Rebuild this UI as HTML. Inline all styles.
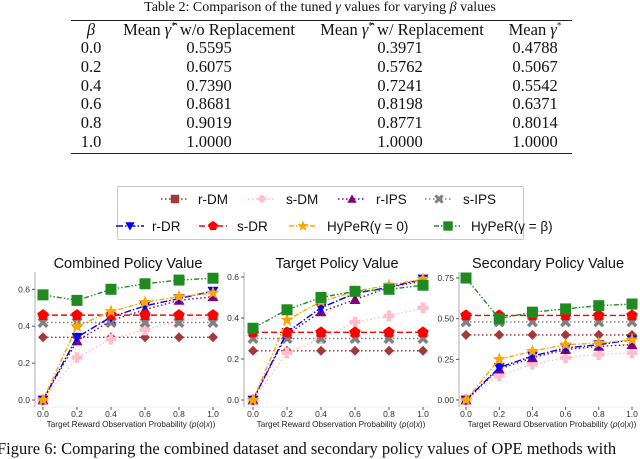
<!DOCTYPE html>
<html><head><meta charset="utf-8">
<style>
body{margin:0;background:#fff;width:640px;height:449px;overflow:hidden;position:relative;font-family:"Liberation Serif",serif;}
.t{position:absolute;white-space:nowrap;color:#111;}
</style></head>
<body>
<div class="t" style="left:0;width:640px;text-align:center;top:0;font-size:14px;">Table 2: Comparison of the tuned <i>γ</i> values for varying <i>β</i> values</div>
<div style="position:absolute;left:0;top:0;width:640px;height:160px;font-size:16.5px;">
<div style="position:absolute;left:71px;width:501px;top:20px;border-top:1.3px solid #222;"></div>
<div style="position:absolute;left:71px;width:501px;top:153px;border-top:1.3px solid #222;"></div>
<div id="tbl"></div>
</div>

<div style="position:absolute;left:117px;top:186px;width:405px;height:52px;border:1.5px solid #c8c8c8;border-radius:2px;"></div>
<svg id="main" width="640" height="449" style="position:absolute;left:0;top:0;" font-family="Liberation Sans, sans-serif"></svg>
<div class="t" style="left:-3px;top:439px;font-size:16.5px;">Figure 6: Comparing the combined dataset and secondary policy values of OPE methods with</div>

<script>
// table data
const betas=["0.0","0.2","0.4","0.6","0.8","1.0"];
const woRep=["0.5595","0.6075","0.7390","0.8681","0.9019","1.0000"];
const wRep=["0.3971","0.5762","0.7241","0.8198","0.8771","1.0000"];
const meanG=["0.4788","0.5067","0.5542","0.6371","0.8014","1.0000"];

// chart data
const xs=[0,0.2,0.4,0.6,0.8,1.0];
const xTicks=["0.0","0.2","0.4","0.6","0.8","1.0"];
const combRDM=[0.34,0.34,0.34,0.34,0.34,0.34];
const combSDM=[0.0,0.23,0.33,0.38,0.43,0.45];
const combRIPS=[0.0,0.32,0.43,0.49,0.54,0.56];
const combSIPS=[0.42,0.42,0.42,0.42,0.42,0.42];
const combRDR=[0.0,0.34,0.45,0.51,0.55,0.59];
const combSDR=[0.46,0.46,0.46,0.46,0.46,0.46];
const combH0=[0.0,0.40,0.48,0.53,0.56,0.58];
const combHB=[0.57,0.54,0.60,0.63,0.65,0.66];
const tgtRDM=[0.24,0.24,0.24,0.24,0.24,0.24];
const tgtSDM=[0.0,0.23,0.30,0.38,0.41,0.45];
const tgtRIPS=[0.0,0.32,0.43,0.49,0.55,0.58];
const tgtSIPS=[0.30,0.30,0.30,0.30,0.30,0.30];
const tgtRDR=[0.0,0.33,0.45,0.52,0.55,0.59];
const tgtSDR=[0.33,0.33,0.33,0.33,0.33,0.33];
const tgtH0=[0.0,0.39,0.48,0.53,0.56,0.59];
const tgtHB=[0.35,0.44,0.50,0.53,0.54,0.56];
const secRDM=[0.40,0.40,0.40,0.40,0.40,0.40];
const secSDM=[0.0,0.15,0.22,0.26,0.28,0.29];
const secRIPS=[0.0,0.19,0.26,0.31,0.33,0.34];
const secSIPS=[0.48,0.48,0.48,0.48,0.48,0.48];
const secRDR=[0.0,0.20,0.27,0.32,0.34,0.37];
const secSDR=[0.52,0.52,0.52,0.52,0.52,0.52];
const secH0=[0.0,0.25,0.30,0.34,0.35,0.37];
const secHB=[0.75,0.50,0.54,0.56,0.58,0.59];
const combY=[0,0.2,0.4,0.6], combYL=["0.0","0.2","0.4","0.6"];
const tgtY=[0,0.2,0.4,0.6], tgtYL=["0.0","0.2","0.4","0.6"];
const secY=[0,0.25,0.5,0.75], secYL=["0.00","0.25","0.50","0.75"];

// table
const tbl=document.getElementById('tbl');
function cell(txt,cx,cy,name,html){const d=document.createElement('div');d.className='t';d.style.left=(cx-110)+'px';d.style.width='220px';d.style.textAlign='center';d.style.top=(cy-10)+'px';if(html)d.innerHTML=txt;else d.textContent=txt;


tbl.appendChild(d);}
cell('<i>β</i>',91,30,'header-beta',1);
cell('Mean <i>γ̂</i><sup style="font-size:9px">*</sup> w/o Replacement',209,30,'header-wo-replacement',1);
cell('Mean <i>γ̂</i><sup style="font-size:9px">*</sup> w/ Replacement',402,30,'header-w-replacement',1);
cell('Mean <i>γ</i><sup style="font-size:9px">*</sup>',535,30,'header-mean-gamma',1);
for(let i=0;i<6;i++){const y=48+i*18.8;
cell(betas[i],91,y,'beta-value');cell(woRep[i],209,y,'wo-replacement-value');cell(wRep[i],400,y,'w-replacement-value');cell(meanG[i],535,y,'mean-gamma-value');}

const NS='http://www.w3.org/2000/svg';const svg=document.getElementById('main');
function el(tag,attrs,parent){const e=document.createElementNS(NS,tag);for(const k in attrs)e.setAttribute(k,attrs[k]);(parent||svg).appendChild(e);return e;}
function marker(type,x,y,s,col,g){let d;const r=s/2;
if(type==='sq')d=`M${x-r},${y-r}h${s}v${s}h${-s}z`;
else if(type==='dia')d=`M${x},${y-r}L${x+r},${y}L${x},${y+r}L${x-r},${y}z`;
else if(type==='tu')d=`M${x},${y-r}L${x+r},${y+r*0.8}L${x-r},${y+r*0.8}z`;
else if(type==='td')d=`M${x},${y+r}L${x+r},${y-r*0.8}L${x-r},${y-r*0.8}z`;
else if(type==='plus'){const w=r*0.4;d=`M${x-w},${y-r}h${2*w}v${r-w}h${r-w}v${2*w}h${-(r-w)}v${r-w}h${-2*w}v${-(r-w)}h${-(r-w)}v${-2*w}h${r-w}z`;}
else if(type==='x'){const w=r*0.45;d=`M${x-r},${y-r+w}L${x-r+w},${y-r}L${x},${y-w}L${x+r-w},${y-r}L${x+r},${y-r+w}L${x+w},${y}L${x+r},${y+r-w}L${x+r-w},${y+r}L${x},${y+w}L${x-r+w},${y+r}L${x-r},${y+r-w}L${x-w},${y}z`;}
else if(type==='pent'){let p=[];for(let k=0;k<5;k++){const a=-Math.PI/2+k*2*Math.PI/5;p.push((x+r*Math.cos(a)).toFixed(2)+','+(y+r*Math.sin(a)).toFixed(2));}d='M'+p.join('L')+'z';}
else if(type==='star'){let p=[];for(let k=0;k<10;k++){const a=-Math.PI/2+k*Math.PI/5;const rr=k%2?r*0.45:r*1.05;p.push((x+rr*Math.cos(a)).toFixed(2)+','+(y+rr*Math.sin(a)).toFixed(2));}d='M'+p.join('L')+'z';}
return el('path',{d:d,fill:col},g);}

const styles=[
 {name:'r-DM',m:'dia',lm:'sq',c:'#a52a2a',mc:'#a33a3a',dash:'1.5,2.5',s:10},
 {name:'s-DM',m:'plus',lm:'dia',c:'#ffc0cb',mc:'#ffc0cb',dash:'1.5,2.5',s:11},
 {name:'r-IPS',m:'tu',lm:'tu',c:'#800080',mc:'#800080',dash:'1.5,2.5',s:11},
 {name:'s-IPS',m:'x',lm:'x',c:'#808080',mc:'#808080',dash:'1.5,2.5',s:11},
 {name:'r-DR',m:'td',lm:'td',c:'#0000ff',mc:'#0000ff',dash:'7,2,1.5,2',s:11},
 {name:'s-DR',m:'pent',lm:'pent',c:'#ff0000',mc:'#ff0000',dash:'6,3',s:12},
 {name:'HyPeR-gamma-0',m:'star',lm:'star',c:'#ffa500',mc:'#ffa500',dash:'5,2,1.5,2',s:13},
 {name:'HyPeR-gamma-beta',m:'sq',lm:'sq',c:'#228b22',mc:'#1f8a1f',dash:'5,2,1.5,2,1.5,2',s:11}];

// legend
const leg=[[175,199,198],[262,199,286],[352,199,376],[439,199,463],[130,226,152],[213,226,237],[303,226,327],[448,226,471]];
const legLabels=['r-DM','s-DM','r-IPS','s-IPS','r-DR','s-DR','HyPeR(γ = 0)','HyPeR(γ = β)'];
styles.forEach((st,i)=>{const [mx,my,tx]=leg[i];const g=el('g',{});


el('line',{x1:mx-14,y1:my,x2:mx+14,y2:my,stroke:st.c,'stroke-width':1.5,'stroke-dasharray':st.dash},g);
marker(st.lm,mx,my,st.s*0.85,st.mc,g);
const t=el('text',{x:tx,y:my+5,'font-size':13.5,fill:'#111'},g);t.textContent=legLabels[i];});

function chart(opt){const g=el('g',{});


const X=v=>opt.x0+v*(opt.x1-opt.x0);const Y=v=>opt.y0-(v/opt.ymaxv)*(opt.y0-opt.ymaxp);
const t=el('text',{x:opt.tx,y:268,'font-size':14.5,'text-anchor':'middle',fill:'#111'},g);t.textContent=opt.title;

el('line',{x1:opt.sp,y1:272,x2:opt.sp,y2:407,stroke:'#bbb','stroke-width':1.2},g);
el('line',{x1:opt.sp,y1:407,x2:opt.x1+8,y2:407,stroke:'#eee','stroke-width':1},g);
opt.yt.forEach((v,i)=>{const y=Y(v);el('line',{x1:opt.sp-3,y1:y,x2:opt.sp,y2:y,stroke:'#555'},g);
const l=el('text',{x:opt.sp-5,y:y+3,'font-size':8.5,'text-anchor':'end',fill:'#333'},g);l.textContent=opt.yl[i];});
xs.forEach((v,i)=>{const x=X(v);el('line',{x1:x,y1:407,x2:x,y2:410,stroke:'#555'},g);
const l=el('text',{x:x,y:417,'font-size':8.5,'text-anchor':'middle',fill:'#333'},g);l.textContent=xTicks[i];});
const xl=el('text',{x:(opt.x0+opt.x1)/2+3,y:427,'font-size':8.2,'text-anchor':'middle',fill:'#222'},g);
xl.innerHTML='Target Reward Observation Probability (<tspan font-style="italic">p</tspan>(<tspan font-style="italic">o</tspan>|<tspan font-style="italic">x</tspan>))';
opt.series.forEach((vals,si)=>{const st=styles[si];const sg=el('g',{},g);


const pts=vals.map((v,i)=>X(xs[i]).toFixed(2)+','+Y(v).toFixed(2)).join(' ');
el('polyline',{points:pts,fill:'none',stroke:st.c,'stroke-width':1.4,'stroke-dasharray':st.dash},sg);
vals.forEach((v,i)=>{const p=marker(st.m,X(xs[i]),Y(v),st.s,st.mc,sg);

});});}

chart({name:'combined-policy-chart',title:'Combined Policy Value',tx:128,sp:35,x0:43,x1:213,y0:400,ymaxv:0.6,ymaxp:289.3,yt:combY,yl:combYL,
 series:[combRDM,combSDM,combRIPS,combSIPS,combRDR,combSDR,combH0,combHB]});
chart({name:'target-policy-chart',title:'Target Policy Value',tx:337,sp:244,x0:253,x1:423,y0:400,ymaxv:0.6,ymaxp:277,yt:tgtY,yl:tgtYL,
 series:[tgtRDM,tgtSDM,tgtRIPS,tgtSIPS,tgtRDR,tgtSDR,tgtH0,tgtHB]});
chart({name:'secondary-policy-chart',title:'Secondary Policy Value',tx:548,sp:459,x0:466,x1:632,y0:400,ymaxv:0.75,ymaxp:278,yt:secY,yl:secYL,
 series:[secRDM,secSDM,secRIPS,secSIPS,secRDR,secSDR,secH0,secHB]});
</script>
</body></html>
